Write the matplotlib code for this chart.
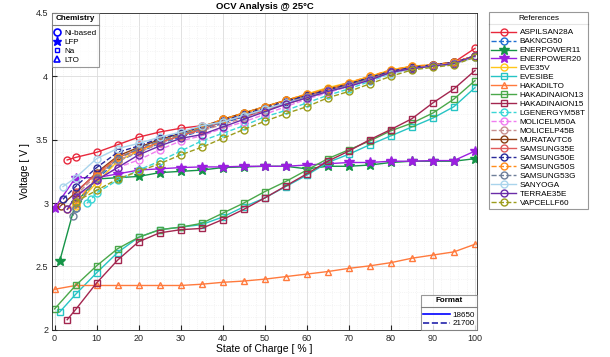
"""
OCV curves for the reference cells at 25 C
"""

import matplotlib.pyplot as plt
from matplotlib.lines import Line2D
from matplotlib.ticker import MultipleLocator

plt.rcParams['font.family'] = ['Liberation Sans', 'DejaVu Sans']

# state of charge grids
soc_std = [0, 5, 10, 15, 20, 25, 30, 35, 40, 45, 50, 55, 60, 65, 70, 75, 80, 85, 90, 95, 100]
soc_5 = soc_std[1:]

# Ni-based cells
aspilsan28a = [3.34, 3.36, 3.40, 3.46, 3.52, 3.56, 3.59, 3.61, 3.64, 3.68, 3.73, 3.78, 3.83, 3.88, 3.93, 3.98, 4.03, 4.07, 4.09, 4.11, 4.22]
bakncg50 = [2.96, 3.19, 3.33, 3.40, 3.47, 3.52, 3.57, 3.63, 3.68, 3.74, 3.79, 3.84, 3.88, 3.93, 3.98, 4.04, 4.06, 4.08, 4.10, 4.16]
eve35v = [2.98, 3.16, 3.33, 3.41, 3.48, 3.53, 3.59, 3.66, 3.71, 3.76, 3.81, 3.86, 3.91, 3.95, 4.00, 4.05, 4.08, 4.09, 4.11, 4.16]
lgenergym58t = [3.00, 3.03, 3.08, 3.18, 3.26, 3.33, 3.41, 3.49, 3.55, 3.61, 3.68, 3.73, 3.79, 3.85, 3.90, 3.96, 4.02, 4.06, 4.08, 4.10, 4.15]
molicelm50a = [3.04, 3.18, 3.28, 3.34, 3.42, 3.49, 3.53, 3.59, 3.64, 3.70, 3.76, 3.82, 3.87, 3.92, 3.97, 4.03, 4.06, 4.08, 4.10, 4.15]
molicelp45b = [3.06, 3.22, 3.34, 3.40, 3.47, 3.53, 3.57, 3.62, 3.67, 3.73, 3.78, 3.83, 3.88, 3.93, 3.98, 4.03, 4.06, 4.08, 4.10, 4.16]
muratavtc6 = [2.98, 3.08, 3.24, 3.37, 3.44, 3.50, 3.55, 3.60, 3.66, 3.71, 3.76, 3.81, 3.85, 3.90, 3.94, 3.99, 4.04, 4.07, 4.09, 4.11, 4.16]
samsung35e = [3.09, 3.23, 3.36, 3.42, 3.48, 3.53, 3.58, 3.64, 3.69, 3.74, 3.79, 3.84, 3.89, 3.93, 3.98, 4.04, 4.07, 4.09, 4.11, 4.16]
samsung50e = [3.03, 3.13, 3.28, 3.40, 3.45, 3.51, 3.55, 3.60, 3.65, 3.70, 3.75, 3.80, 3.85, 3.89, 3.94, 3.99, 4.04, 4.07, 4.09, 4.11, 4.16]
samsung50s = [2.95, 2.99, 3.21, 3.36, 3.41, 3.49, 3.54, 3.60, 3.66, 3.71, 3.76, 3.81, 3.86, 3.90, 3.95, 4.00, 4.05, 4.08, 4.09, 4.11, 4.16]
samsung53g = [2.90, 2.96, 3.20, 3.35, 3.43, 3.49, 3.54, 3.59, 3.64, 3.69, 3.74, 3.79, 3.84, 3.88, 3.93, 3.98, 4.03, 4.06, 4.08, 4.10, 4.15]
sanyoga = [3.13, 3.20, 3.35, 3.43, 3.47, 3.52, 3.56, 3.61, 3.64, 3.69, 3.74, 3.79, 3.83, 3.88, 3.92, 3.97, 4.02, 4.06, 4.08, 4.10, 4.15]
terrae35e = [2.95, 3.05, 3.18, 3.28, 3.38, 3.45, 3.51, 3.54, 3.60, 3.66, 3.72, 3.78, 3.83, 3.88, 3.92, 3.97, 4.03, 4.06, 4.08, 4.10, 4.16]
vapcellf60 = [3.01, 3.10, 3.19, 3.25, 3.31, 3.38, 3.44, 3.51, 3.58, 3.645, 3.705, 3.76, 3.83, 3.88, 3.94, 4.00, 4.05, 4.07, 4.09, 4.15]

# LFP cells
enerpower11 = [2.54, 3.00, 3.19, 3.20, 3.21, 3.24, 3.25, 3.26, 3.28, 3.285, 3.29, 3.29, 3.27, 3.29, 3.29, 3.30, 3.32, 3.33, 3.33, 3.33, 3.35]
enerpower20 = [2.96, 3.20, 3.20, 3.23, 3.26, 3.27, 3.28, 3.285, 3.285, 3.29, 3.29, 3.29, 3.30, 3.31, 3.32, 3.32, 3.33, 3.33, 3.335, 3.335, 3.41]

# Na cells
evesibe = [2.14, 2.28, 2.45, 2.61, 2.73, 2.79, 2.81, 2.83, 2.89, 2.97, 3.04, 3.13, 3.22, 3.32, 3.385, 3.46, 3.53, 3.60, 3.67, 3.76, 3.91]
hakadinaion13 = [2.165, 2.35, 2.505, 2.64, 2.73, 2.79, 2.81, 2.84, 2.92, 3.00, 3.09, 3.17, 3.26, 3.35, 3.42, 3.49, 3.57, 3.63, 3.71, 3.82, 3.965]
hakadinaion15 = [2.08, 2.16, 2.37, 2.55, 2.695, 2.765, 2.79, 2.80, 2.87, 2.95, 3.04, 3.135, 3.23, 3.33, 3.41, 3.50, 3.58, 3.665, 3.79, 3.90, 4.045]

# LTO cell
hakadilto = [2.32, 2.35, 2.35, 2.35, 2.35, 2.35, 2.35, 2.36, 2.375, 2.385, 2.40, 2.42, 2.44, 2.46, 2.485, 2.505, 2.53, 2.565, 2.59, 2.615, 2.675]

# name, soc, voltage, colour, linestyle, marker
cells = [
    ("ASPILSAN28A", [3] + soc_5, aspilsan28a, '#e8283c', '-', 'o'),
    ("BAKNCG50", soc_5, bakncg50, '#1f6fd1', '--', 'o'),
    ("ENERPOWER11", [1.2] + soc_5, enerpower11, '#159447', '-', '*'),
    ("ENERPOWER20", soc_std, enerpower20, '#9b1fe0', '-', '*'),
    ("EVE35V", soc_5, eve35v, '#ffc61a', '-', 'o'),
    ("EVESIBE", [1.2] + soc_5, evesibe, '#26c4c4', '-', 's'),
    ("HAKADILTO", soc_std, hakadilto, '#ff7a3d', '-', '^'),
    ("HAKADINAION13", soc_std, hakadinaion13, '#4aa84a', '-', 's'),
    ("HAKADINAION15", [3] + soc_5, hakadinaion15, '#a3264f', '-', 's'),
    ("LGENERGYM58T", [7.7, 8.7] + soc_std[2:], lgenergym58t, '#3ad6d6', '--', 'o'),
    ("MOLICELM50A", soc_5, molicelm50a, '#f07cf0', '--', 'o'),
    ("MOLICELP45B", soc_5, molicelp45b, '#c89090', '--', 'o'),
    ("MURATAVTC6", [1.5] + soc_5, muratavtc6, '#8b3d12', '-', 'o'),
    ("SAMSUNG35E", soc_5, samsung35e, '#e05a5a', '-', 'o'),
    ("SAMSUNG50E", [2] + soc_5, samsung50e, '#2a2a9a', '--', 'o'),
    ("SAMSUNG50S", [3] + soc_5, samsung50s, '#ff8c1a', '--', 'o'),
    ("SAMSUNG53G", [4.4] + soc_5, samsung53g, '#6f7f99', '--', 'o'),
    ("SANYOGA", [2] + soc_5, sanyoga, '#a9d4ec', '-', 'o'),
    ("TERRAE35E", [3] + soc_5, terrae35e, '#6a2ca8', '-', 'o'),
    ("VAPCELLF60", soc_5, vapcellf60, '#9c9c1c', '--', 'o'),
]

fig = plt.figure(figsize=(6.1, 3.57), dpi=100)
ax = fig.add_axes([0.086, 0.076, 0.696, 0.888])

ref_handles = []
for name, soc, volt, color, ls, mk in cells:
    if mk == '*':
        line, = ax.plot(soc, volt, color=color, ls=ls, lw=1.0, marker=mk, ms=7,
                        mfc=color, mec=color, label=name)
    else:
        line, = ax.plot(soc, volt, color=color, ls=ls, lw=1.0, marker=mk, ms=5,
                        mfc='none', mec=color, mew=1.0, label=name)
    ref_handles.append(line)

ax.set_xlim(-0.5, 100.5)
ax.set_ylim(2, 4.5)
ax.xaxis.set_major_locator(MultipleLocator(10))
ax.xaxis.set_minor_locator(MultipleLocator(2))
ax.yaxis.set_minor_locator(MultipleLocator(0.1))
ax.set_yticks([2, 2.5, 3, 3.5, 4, 4.5])
ax.set_yticklabels(['2', '2.5', '3', '3.5', '4', '4.5'])
ax.grid(which='major', color='#dcdcdc', lw=0.6)
ax.grid(which='minor', color='#ececec', lw=0.5, ls=':')
ax.set_axisbelow(True)
ax.tick_params(which='both', direction='in', labelsize=6.5, colors='#262626', pad=3)
ax.tick_params(which='minor', length=0)
for sp in ax.spines.values():
    sp.set_color('#262626')
    sp.set_linewidth(0.6)

ax.set_xlabel("State of Charge [ % ]", fontsize=7.5, labelpad=1)
ax.set_ylabel("Voltage [ V ]", fontsize=7.5, labelpad=4)
ax.set_title("OCV Analysis @ 25°C", fontsize=6.8, fontweight='bold', pad=2.5)

# common legend look
leg_kw = dict(title_fontsize=5.8, frameon=True, fancybox=False,
              edgecolor='#7f7f7f', borderaxespad=0)

# References legend outside
leg_ref = fig.legend(handles=ref_handles, loc='upper left', bbox_to_anchor=(0.8016, 0.9655),
                     title="References", fontsize=5.9, handlelength=3.0, labelspacing=0.15,
                     borderpad=0.3, handletextpad=0.45, **leg_kw)
leg_ref.get_frame().set_linewidth(0.8)

# Chemistry legend
chem_handles = [
    Line2D([], [], ls='none', marker='o', ms=5, mfc='none', mec='blue', mew=1.2, label='Ni-based'),
    Line2D([], [], ls='none', marker='*', ms=6.5, mfc='blue', mec='blue', label='LFP'),
    Line2D([], [], ls='none', marker='s', ms=3.5, mfc='none', mec='blue', label='Na'),
    Line2D([], [], ls='none', marker='^', ms=5, mfc='none', mec='blue', mew=1.2, label='LTO'),
]
leg_chem = ax.legend(handles=chem_handles, loc='upper left', bbox_to_anchor=(0.0, 1.0),
                     title="Chemistry", fontsize=5.8, handlelength=0.6, handletextpad=0.55,
                     labelspacing=0.18, borderpad=0.3, **leg_kw)
leg_chem.get_title().set_fontweight('bold')
leg_chem.get_frame().set_linewidth(0.8)
ax.add_artist(leg_chem)

# Format legend
fmt_handles = [
    Line2D([], [], color='blue', ls='-', lw=1.2, label='18650'),
    Line2D([], [], color='#2222aa', ls='--', lw=1.2, label='21700'),
]
leg_fmt = ax.legend(handles=fmt_handles, loc='lower right', bbox_to_anchor=(1.0, 0.0),
                    title="Format", fontsize=5.8, handlelength=3.3, handletextpad=0.3,
                    labelspacing=0.12, borderpad=0.3, **leg_kw)
leg_fmt.get_title().set_fontweight('bold')
leg_fmt.get_frame().set_linewidth(0.8)

# more room between legend title and entries, like the original
for leg in (leg_ref, leg_chem, leg_fmt):
    leg._legend_box.sep = 5

# separator line under each legend title
fig.canvas.draw()
renderer = fig.canvas.get_renderer()
inv = fig.transFigure.inverted()
for leg in (leg_ref, leg_chem, leg_fmt):
    box = leg.get_frame().get_window_extent(renderer)
    tbox = leg.get_title().get_window_extent(renderer)
    y = tbox.y0 - 2.5
    (x0, yy), (x1, _) = inv.transform([(box.x0, y), (box.x1, y)])
    fig.add_artist(Line2D([x0, x1], [yy, yy], color='#7f7f7f', lw=0.8, transform=fig.transFigure))

fig.savefig("out.png", dpi=100)
